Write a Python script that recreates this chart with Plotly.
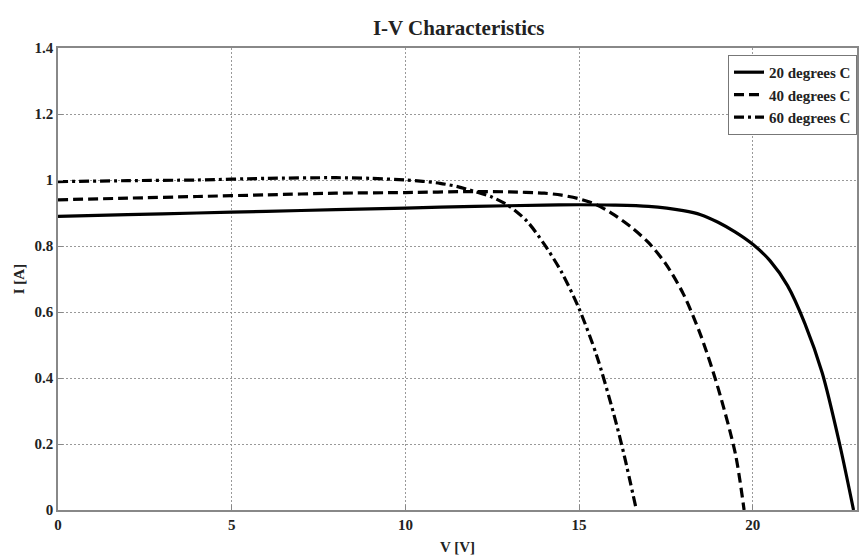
import plotly.graph_objects as go

v20 = [0, 2, 4, 6, 8, 10, 12, 14, 15, 16, 17, 18, 18.5, 19, 19.5, 20, 20.5, 21, 21.5, 22, 22.5, 22.9]
i20 = [0.89, 0.895, 0.90, 0.905, 0.91, 0.915, 0.92, 0.924, 0.925, 0.924, 0.92, 0.907, 0.895, 0.872, 0.842, 0.805, 0.755, 0.68, 0.565, 0.415, 0.2, 0.0]

v40 = [0, 2, 4, 6, 8, 10, 12, 13, 14, 14.5, 15, 15.5, 16, 16.5, 17, 17.5, 18, 18.5, 19, 19.5, 19.75]
i40 = [0.94, 0.945, 0.95, 0.955, 0.96, 0.962, 0.965, 0.964, 0.96, 0.954, 0.943, 0.925, 0.895, 0.857, 0.81, 0.745, 0.655, 0.53, 0.37, 0.17, 0.0]

v60 = [0, 2, 4, 6, 8, 9, 10, 10.5, 11, 11.5, 12, 12.5, 13, 13.5, 14, 14.5, 15, 15.5, 16, 16.3, 16.65]
i60 = [0.995, 0.998, 1.0, 1.005, 1.007, 1.005, 1.0, 0.996, 0.99, 0.98, 0.965, 0.948, 0.92, 0.875, 0.805, 0.72, 0.61, 0.47, 0.29, 0.165, 0.0]

labels = ["20 degrees C", "40 degrees C", "60 degrees C"]
x_ticks = [0, 5, 10, 15, 20]
y_ticks = [0, 0.2, 0.4, 0.6, 0.8, 1.0, 1.2, 1.4]
y_ticktext = ["0", "0.2", "0.4", "0.6", "0.8", "1", "1.2", "1.4"]

FONT = "Liberation Serif"

fig = go.Figure()
fig.add_trace(go.Scatter(x=v20, y=i20, mode="lines", name=f"<b>{labels[0]}</b>",
                         line=dict(color="black", width=3.2, shape="spline", smoothing=0.8)))
fig.add_trace(go.Scatter(x=v40, y=i40, mode="lines", name=f"<b>{labels[1]}</b>",
                         line=dict(color="black", width=3.2, dash="10px,5px", shape="spline", smoothing=0.8)))
fig.add_trace(go.Scatter(x=v60, y=i60, mode="lines", name=f"<b>{labels[2]}</b>",
                         line=dict(color="black", width=3.2, dash="10px,4px,3px,4px", shape="spline", smoothing=0.8)))

fig.update_layout(
    width=859, height=556,
    margin=dict(l=58, r=0, t=48, b=46),
    paper_bgcolor="white", plot_bgcolor="white",
    font=dict(family=FONT, color="#222", size=13),
    title=dict(text="<b>I-V Characteristics</b>", x=0.534, xanchor="center",
               y=1 - 28 / 556, yanchor="middle",
               font=dict(family=FONT, size=21, color="#222")),
    legend=dict(x=1.0, xanchor="right", y=0.985, yanchor="top",
                bgcolor="white", bordercolor="#777", borderwidth=1,
                font=dict(family=FONT, size=15, color="#222"),
                itemwidth=30, tracegroupgap=0),
    showlegend=True,
)
fig.update_xaxes(range=[0, 23], tickvals=x_ticks, ticktext=[f"<b>{t}</b>" for t in x_ticks],
                 ticks="inside", ticklen=5,
                 tickcolor="#888", showline=True, linecolor="#888", linewidth=1.5,
                 mirror=True, showgrid=True, gridcolor="#999", griddash="2px,2px", gridwidth=1,
                 zeroline=False, tickfont=dict(family=FONT, size=15, color="#222"),
                 title=dict(text="<b>V [V]</b>", standoff=10,
                            font=dict(family=FONT, size=15, color="#222")))
fig.update_yaxes(range=[0, 1.4], tickvals=y_ticks, ticktext=[f"<b>{t}</b>" for t in y_ticktext],
                 ticks="inside", ticklen=5, tickcolor="#888",
                 showline=True, linecolor="#888", linewidth=1.5, mirror=True,
                 showgrid=True, gridcolor="#999", griddash="2px,2px", gridwidth=1,
                 zeroline=False, tickfont=dict(family=FONT, size=15, color="#222"),
                 title=dict(text="<b>I [A]</b>", standoff=6,
                            font=dict(family=FONT, size=15, color="#222")))

fig.write_html("out.html", config={"displayModeBar": False},
               post_script="document.body.style.margin='0';")
